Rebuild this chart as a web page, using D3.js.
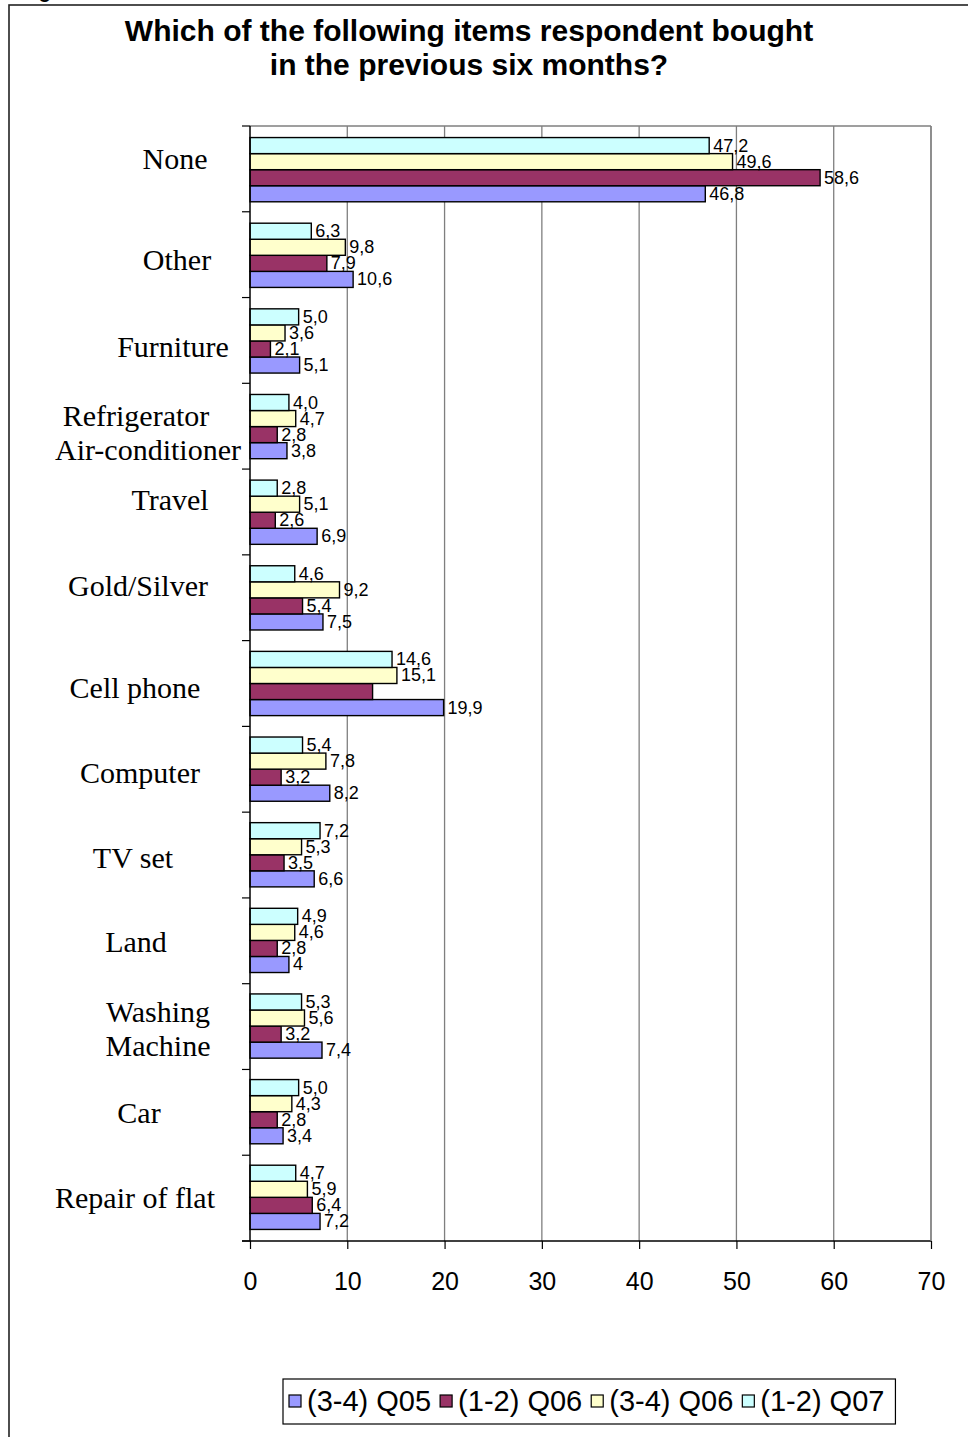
<!DOCTYPE html>
<html>
<head>
<meta charset="utf-8">
<script src="https://cdn.jsdelivr.net/npm/d3@7"></script>
<style>
  html, body { margin: 0; padding: 0; background: #fff; }
  svg { display: block; }
</style>
</head>
<body>
<svg id="chart" width="968" height="1437"></svg>
<script>
// Purchase categories, listed top to bottom as they appear on the chart
const categories = [
  "None", "Other", "Furniture", "Refrigerator\nAir-conditioner", "Travel",
  "Gold/Silver", "Cell phone", "Computer", "TV set", "Land",
  "Washing\nMachine", "Car", "Repair of flat"
];

// Survey waves (legend order)
const seriesNames = ["(3-4) Q05", "(1-2) Q06", "(3-4) Q06", "(1-2) Q07"];

// Share of respondents (%), one value per category above
const q05_34 = [46.8, 10.6, 5.1, 3.8, 6.9, 7.5, 19.9, 8.2, 6.6, 4, 7.4, 3.4, 7.2];
const q06_12 = [58.6, 7.9, 2.1, 2.8, 2.6, 5.4, 12.6, 3.2, 3.5, 2.8, 3.2, 2.8, 6.4];
const q06_34 = [49.6, 9.8, 3.6, 4.7, 5.1, 9.2, 15.1, 7.8, 5.3, 4.6, 5.6, 4.3, 5.9];
const q07_12 = [47.2, 6.3, 5.0, 4.0, 2.8, 4.6, 14.6, 5.4, 7.2, 4.9, 5.3, 5.0, 4.7];

const xTicks = [0, 10, 20, 30, 40, 50, 60, 70];

// Value labels that are printed without a decimal, and labels that are not printed
const integerLabels = { "(3-4) Q05": ["Land"] };
const hiddenLabels = { "(1-2) Q06": ["Cell phone"] };

// ---- styling / layout ----
const colors = ["#9999FF", "#993366", "#FFFFCC", "#CCFFFF"];
// horizontal centre of each caption line and vertical nudge of each caption
const catLabelX = [[175], [177], [173], [136, 148], [170], [138], [135], [140], [133], [136], [158, 158], [139], [135]];
const catLabelShift = [-11, 5, 6, 6, -12, -12, 4, 4, 3, 2, 3, 1, 1];

const seriesValues = [q05_34, q06_12, q06_34, q07_12];

const svg = d3.select("#chart");

const plot = { left: 250, right: 931, top: 126, bottom: 1241 };

// outer chart frame
svg.append("rect")
  .attr("x", 9).attr("y", 5)
  .attr("width", 980).attr("height", 1450)
  .attr("fill", "none").attr("stroke", "#222").attr("stroke-width", 1.6);

// fragment of the caption above the frame
svg.append("text")
  .attr("x", 51).attr("y", -2)
  .attr("text-anchor", "end")
  .attr("font-family", "Liberation Sans, Arial, sans-serif")
  .attr("font-weight", "bold").attr("font-size", 20)
  .text("Fig");

// title
const title = svg.append("text")
  .attr("text-anchor", "middle")
  .attr("font-family", "Liberation Sans, Arial, sans-serif")
  .attr("font-weight", "bold").attr("font-size", 30)
  .attr("fill", "#000");
title.append("tspan").attr("x", 469).attr("y", 41)
  .text("Which of the following items respondent bought");
title.append("tspan").attr("x", 469).attr("y", 75)
  .text("in the previous six months?");

// scales
const x = d3.scaleLinear().domain([0, 70]).range([plot.left, plot.right]);

const y = d3.scaleBand()
  .domain(categories)
  .range([plot.top, plot.bottom])
  .paddingInner(0.25)
  .paddingOuter(0.135);

// inner band: the last wave sits on top within each group
const ySeries = d3.scaleBand()
  .domain(seriesNames.slice().reverse())
  .range([0, y.bandwidth()]);

// vertical gridlines
svg.append("g")
  .selectAll("line")
  .data(xTicks.filter(t => t > 0))
  .join("line")
  .attr("x1", d => x(d)).attr("x2", d => x(d))
  .attr("y1", plot.top).attr("y2", plot.bottom)
  .attr("stroke", "#7f7f7f").attr("stroke-width", 1.3);

// plot area border (top edge)
svg.append("line")
  .attr("x1", plot.left).attr("x2", plot.right)
  .attr("y1", plot.top).attr("y2", plot.top)
  .attr("stroke", "#7f7f7f").attr("stroke-width", 1.3);

// bars
const groups = svg.append("g")
  .selectAll("g")
  .data(seriesNames.map((name, i) => ({ name, i, values: seriesValues[i] })))
  .join("g");

groups.selectAll("rect")
  .data(s => categories.map((c, j) => ({ series: s.name, si: s.i, cat: c, v: s.values[j] })))
  .join("rect")
  .attr("x", x(0))
  .attr("y", d => y(d.cat) + ySeries(d.series))
  .attr("width", d => x(d.v) - x(0))
  .attr("height", ySeries.bandwidth())
  .attr("fill", d => colors[d.si])
  .attr("stroke", "#000").attr("stroke-width", 1.4);

// value labels
const fmt = d3.format(".1f");
function labelText(d) {
  if ((hiddenLabels[d.series] || []).includes(d.cat)) return "";
  if ((integerLabels[d.series] || []).includes(d.cat)) return d3.format("d")(d.v);
  return fmt(d.v).replace(".", ",");
}

groups.selectAll("text")
  .data(s => categories.map((c, j) => ({ series: s.name, si: s.i, cat: c, v: s.values[j] })))
  .join("text")
  .attr("x", d => x(d.v) + 4)
  .attr("y", d => y(d.cat) + ySeries(d.series) + ySeries.bandwidth() / 2 + 6)
  .attr("font-family", "Liberation Sans, Arial, sans-serif")
  .attr("font-size", 18)
  .attr("fill", "#000")
  .text(labelText);

// y axis line and category boundary ticks
svg.append("line")
  .attr("x1", plot.left).attr("x2", plot.left)
  .attr("y1", plot.top).attr("y2", plot.bottom)
  .attr("stroke", "#000").attr("stroke-width", 1.5);

svg.append("g")
  .selectAll("line")
  .data(d3.range(categories.length + 1))
  .join("line")
  .attr("x1", plot.left - 8).attr("x2", plot.left)
  .attr("y1", i => plot.top + i * (plot.bottom - plot.top) / categories.length)
  .attr("y2", i => plot.top + i * (plot.bottom - plot.top) / categories.length)
  .attr("stroke", "#000").attr("stroke-width", 1.2);

// category captions
const catGroup = svg.append("g")
  .attr("font-family", "Liberation Serif, 'Times New Roman', serif")
  .attr("font-size", 30)
  .attr("fill", "#000")
  .attr("text-anchor", "middle");

categories.forEach((c, j) => {
  const lines = c.split("\n");
  const centre = y(c) + y.bandwidth() / 2 + catLabelShift[j];
  const lh = 34;
  const t = catGroup.append("text");
  lines.forEach((ln, k) => {
    t.append("tspan")
      .attr("x", catLabelX[j][k])
      .attr("y", centre + 10 + (k - (lines.length - 1) / 2) * lh)
      .text(ln);
  });
});

// x axis
const xAxis = d3.axisBottom(x)
  .tickValues(xTicks)
  .tickSize(8)
  .tickPadding(23)
  .tickFormat(d3.format("d"));

const gx = svg.append("g")
  .attr("transform", `translate(0,${plot.bottom})`)
  .call(xAxis);
gx.select(".domain")
  .attr("d", `M${plot.left - 8},0H${plot.right}`)
  .attr("stroke", "#000").attr("stroke-width", 1.5);
gx.selectAll(".tick line").attr("stroke", "#000").attr("stroke-width", 1.2);
gx.selectAll(".tick text")
  .attr("font-family", "Liberation Sans, Arial, sans-serif")
  .attr("font-size", 25)
  .attr("fill", "#000");

// right border of the plot area
svg.append("line")
  .attr("x1", plot.right).attr("x2", plot.right)
  .attr("y1", plot.top).attr("y2", plot.bottom)
  .attr("stroke", "#7f7f7f").attr("stroke-width", 1.3);

// legend
const legend = svg.append("g")
  .attr("font-family", "Liberation Sans, Arial, sans-serif")
  .attr("font-size", 29);

const legendBox = legend.append("rect")
  .attr("fill", "#fff").attr("stroke", "#000").attr("stroke-width", 1.2);

let lx = 289;
const legendMid = 1401;
seriesNames.forEach((name, i) => {
  legend.append("rect")
    .attr("x", lx).attr("y", legendMid - 6)
    .attr("width", 12).attr("height", 12)
    .attr("fill", colors[i]).attr("stroke", "#000").attr("stroke-width", 1.2);
  const t = legend.append("text")
    .attr("x", lx + 18).attr("y", legendMid + 10)
    .text(name);
  lx += 18 + t.node().getComputedTextLength() + 9;
});
legendBox
  .attr("x", 283).attr("y", 1379)
  .attr("width", lx - 283 + 2).attr("height", 45);
</script>
</body>
</html>
